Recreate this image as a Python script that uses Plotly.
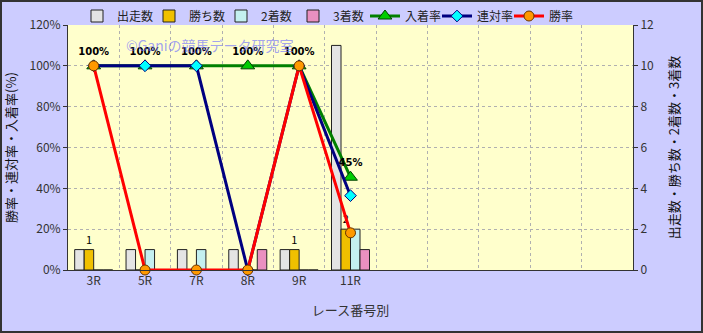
import plotly.graph_objects as go

# Race-number breakdown
races = ["3R", "5R", "7R", "8R", "9R", "11R"]
starts = [1, 1, 1, 1, 1, 11]        # 出走数
wins = [1, 0, 0, 0, 1, 2]           # 勝ち数
seconds = [0, 1, 1, 0, 0, 2]        # 2着数
thirds = [0, 0, 0, 1, 0, 1]         # 3着数
place_rate = [100, 100, 100, 100, 100, 45.45]  # 入着率 (%)
quinella_rate = [100, 100, 100, 0, 100, 36.4]  # 連対率 (%)
win_rate = [100, 0, 0, 0, 100, 18.2]           # 勝率 (%)
n_slots = 11

FONT = "Noto Sans CJK JP"
W, H = 703, 333
ML, MR, MT, MB = 68, 70, 25, 63
PW, PH = W - ML - MR, H - MT - MB

xpos = list(range(len(races)))

fig = go.Figure()

bar_specs = [
    ("出走数", starts, "#e4e4e4", None),
    ("勝ち数", wins, "#f0c000", [str(v) if v else "" for v in wins]),
    ("2着数", seconds, "#c4f0f0", None),
    ("3着数", thirds, "#ea90c0", None),
]
for name, vals, color, labels in bar_specs:
    fig.add_trace(go.Bar(
        x=xpos, y=vals, name=name,
        marker=dict(color=color, line=dict(color="#222", width=1)),
        text=labels, textposition="outside" if labels else None,
        textfont=dict(size=11, color="#000", family=FONT),
        cliponaxis=False,
        yaxis="y",
    ))

fig.add_trace(go.Scatter(
    x=xpos, y=place_rate, name="入着率", mode="lines+markers+text",
    line=dict(color="#008000", width=3),
    marker=dict(symbol="triangle-up", size=12, color="#00cc00",
                line=dict(color="#004000", width=1)),
    text=[f"{round(v)}%" for v in place_rate], textposition="top center",
    textfont=dict(size=10, color="#000", family="DejaVu Sans", weight="bold"),
    cliponaxis=False, yaxis="y2",
))
fig.add_trace(go.Scatter(
    x=xpos, y=quinella_rate, name="連対率", mode="lines+markers",
    line=dict(color="#000080", width=3),
    marker=dict(symbol="diamond", size=9, color="#00ffff",
                line=dict(color="#000080", width=1)),
    cliponaxis=False, yaxis="y2",
))
fig.add_trace(go.Scatter(
    x=xpos, y=win_rate, name="勝率", mode="lines+markers",
    line=dict(color="#ff0000", width=3),
    marker=dict(symbol="circle", size=10, color="#ff9900",
                line=dict(color="#663300", width=1)),
    cliponaxis=False, yaxis="y2",
))

fig.update_layout(
    width=W, height=H,
    margin=dict(l=ML, r=MR, t=MT, b=MB, autoexpand=False),
    paper_bgcolor="#ccccff",
    plot_bgcolor="#ffffcc",
    font=dict(family=FONT, size=12, color="#333"),
    barmode="group", bargap=0.26, bargroupgap=0,
    showlegend=True,
    legend=dict(
        orientation="h", xref="container", x=77 / W, xanchor="left",
        yref="container", y=1 - 16 / H, yanchor="middle",
        font=dict(size=12, color="#222"), bgcolor="rgba(0,0,0,0)",
        itemwidth=30, entrywidth=27, entrywidthmode="pixels",
    ),
    xaxis=dict(
        range=[-0.5, n_slots - 0.5],
        tickvals=xpos, ticktext=races, ticks="",
        showgrid=False, zeroline=False,
        showline=True, linecolor="#333", linewidth=1,
        minor=dict(tick0=0.5, dtick=1, showgrid=True,
                   gridcolor="#b0b0b0", griddash="dot", gridwidth=1),
        tickfont=dict(size=12, color="#333"),
        title=dict(text="レース番号別", font=dict(size=13, color="#333"), standoff=18),
    ),
    yaxis=dict(
        side="right", range=[0, 12], dtick=2,
        showgrid=False, zeroline=False,
        showline=True, linecolor="#333", linewidth=1,
        ticks="outside", ticklen=4, tickcolor="#333",
        tickfont=dict(size=12, color="#333"),
        title=dict(text="出走数・勝ち数・2着数・3着数", font=dict(size=13, color="#111"), standoff=16),
    ),
    yaxis2=dict(
        side="left", overlaying="y", range=[0, 120], dtick=20, ticksuffix="%",
        showgrid=True, gridcolor="#b0b0b0", griddash="dot", gridwidth=1,
        zeroline=False,
        showline=True, linecolor="#333", linewidth=1,
        ticks="outside", ticklen=4, tickcolor="#333",
        tickfont=dict(size=12, color="#333"),
        title=dict(text="勝率・連対率・入着率(%)", font=dict(size=13, color="#111"), standoff=10),
    ),
)

# watermark
fig.add_annotation(
    text="©Ganiの競馬データ研究室", xref="paper", yref="paper",
    x=(210 - ML) / PW, y=1 - (45 - MT) / PH, xanchor="center", yanchor="middle",
    showarrow=False,
    font=dict(size=14, color="rgba(110,110,255,0.65)", family=FONT),
)

# outer frame
fig.add_shape(
    type="rect", xref="paper", yref="paper",
    x0=-(ML - 1) / PW, x1=1 + (MR - 1) / PW,
    y0=-(MB - 1) / PH, y1=1 + (MT - 1) / PH,
    line=dict(color="#333", width=2), layer="above",
)

fig.write_html("out.html")
